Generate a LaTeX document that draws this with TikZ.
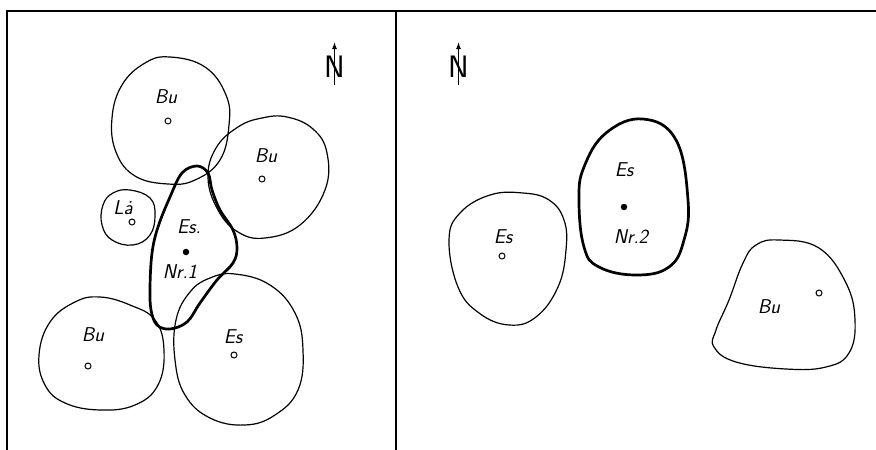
\documentclass[tikz,border=0pt]{standalone}
\usetikzlibrary{arrows.meta}
\begin{document}
\begin{tikzpicture}[x=1pt,y=-1pt,
  outline/.style={line width=1.2pt, line join=round},
  heavy/.style={line width=2.7pt, line join=round},
  frameline/.style={line width=1.6pt},
  lbl/.style={font=\fontsize{20}{20}\selectfont\sffamily\itshape, inner sep=0pt},
  tree/.style={circle, draw, line width=1pt, minimum size=6pt, inner sep=0pt},
  site/.style={circle, fill, minimum size=6.5pt, inner sep=0pt},
  nletter/.style={font=\fontsize{31}{31}\selectfont\sffamily, inner sep=0pt}]
\useasboundingbox (0,0) rectangle (876,450);
\fill[white] (0,0) rectangle (876,450);
% frame
\draw[frameline] (7,450) -- (7,11) -- (876,11);
\draw[frameline] (396,11) -- (396,450);

% ===== left panel =====
% north arrow
\node[nletter] (nl) at (334.5,67) {N};
\coordinate (nla) at (334.5,85);
\coordinate (nlb) at (334.5,42);
\draw[line width=1.3pt, -{Latex[length=7pt,width=5pt]}] (nla) -- (nlb);

% Bu top
\draw[outline] plot[smooth cycle, tension=0.7] coordinates {(170,57) (205,67) (226,95) (229,125) (220,160) (195,180) (168,184) (135,176) (116,152) (112,118) (122,85) (145,63)};
\node[lbl] (bu1) at (166,97) {Bu};
\node[tree] (t1) at (168,121) {};

% Bu right
\draw[outline] plot[smooth cycle, tension=0.7] coordinates {(287,117) (313,129) (327,153) (325,190) (300,225) (265,238) (238,232) (218,210) (208,178) (216,148) (238,127) (262,118)};
\node[lbl] (bu2) at (266,156) {Bu};
\node[tree] (t2) at (262,179) {};

% La
\draw[outline] plot[smooth cycle, tension=0.7] coordinates {(130,190) (150,198) (155,215) (150,235) (133,245) (112,240) (102,225) (103,205) (113,193)};
\node[lbl] (la) at (123,208) {L\.a};
\node[tree] (t3) at (132,222) {};

% Bu bottom left
\draw[outline] plot[smooth cycle, tension=0.7] coordinates {(100,297) (130,305) (155,320) (164,350) (158,385) (135,405) (100,410) (65,403) (45,385) (39,355) (50,322) (75,302)};
\node[lbl] (bu3) at (93,335) {Bu};
\node[tree] (t4) at (88,366) {};

% Es bottom
\draw[outline] plot[smooth cycle, tension=0.7] coordinates {(235,274) (270,285) (295,313) (303,350) (298,390) (275,415) (245,425) (210,418) (185,395) (175,360) (176,320) (190,292) (210,278)};
\node[lbl] (es1) at (233,337) {Es};
\node[tree] (t5) at (234,355) {};

% Es Nr.1 (heavy)
\draw[heavy] plot[smooth cycle, tension=0.6] coordinates {(197,166) (208,173) (212,190) (220,210) (233,230) (237,248) (233,263) (217,280) (200,303) (187,322) (170,329) (157,325) (151,310) (150,287) (152,253) (158,227) (170,197) (182,173)};
\node[lbl] (es2) at (189,227) {Es.};
\node[site] (s1) at (186,252) {};
\node[lbl] (nr1) at (180,272) {Nr.1};

% ===== right panel =====
\node[nletter] (nr) at (458.5,67) {N};
\coordinate (nra) at (458.5,85);
\coordinate (nrb) at (458.5,42);
\draw[line width=1.3pt, -{Latex[length=7pt,width=5pt]}] (nra) -- (nrb);

% Es left
\draw[outline] plot[smooth cycle, tension=0.7] coordinates {(523,193) (549,200) (564,220) (566,250) (558,287) (536,317) (509,325) (479,313) (458,287) (449,240) (460,213) (490,195)};
\node[lbl] (es3) at (503,237) {Es};
\node[tree] (t6) at (502,256) {};

% Es Nr.2 (heavy)
\draw[heavy] plot[smooth cycle, tension=0.7] coordinates {(643,119) (676,140) (688,200) (684,240) (669,267) (636,275) (599,267) (584,247) (579,200) (584,167) (606,133)};
\node[lbl] (es4) at (624,170) {Es};
\node[site] (s2) at (624,207) {};
\node[lbl] (nr2) at (631,237) {Nr.2};

% Bu right panel
\draw[outline] plot[smooth cycle, tension=0.7] coordinates {(779,240) (819,248) (846,283) (855,320) (849,353) (826,367) (786,369) (736,362) (714,347) (716,330) (729,300) (743,263) (756,245)};
\node[lbl] (bu4) at (769,307) {Bu};
\node[tree] (t7) at (819,293) {};
\end{tikzpicture}
\end{document}
